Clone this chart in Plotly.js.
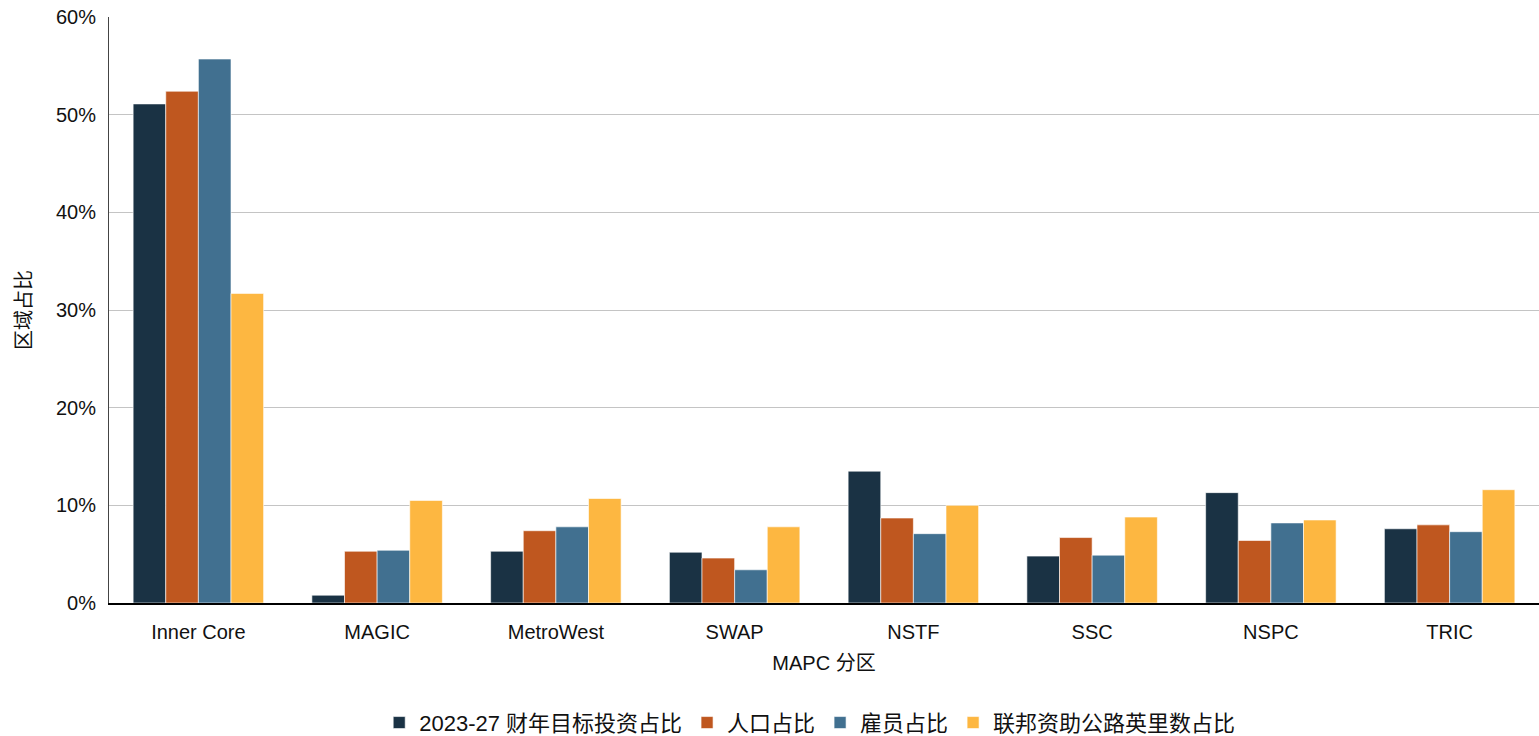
<!DOCTYPE html>
<html>
<head>
<meta charset="utf-8">
<script src="https://cdn.plot.ly/plotly-3.0.1.min.js"></script>
<style>html,body{margin:0;padding:0;background:#fff;}#chart{width:1539px;height:736px;}</style>
</head>
<body>
<div id="chart"></div>
<script>
const categories = ["Inner Core", "MAGIC", "MetroWest", "SWAP", "NSTF", "SSC", "NSPC", "TRIC"];
const seriesNames = ["2023-27 财年目标投资占比", "人口占比", "雇员占比", "联邦资助公路英里数占比"];
const investShare = [0.511, 0.008, 0.053, 0.052, 0.135, 0.048, 0.113, 0.076];
const populationShare = [0.524, 0.053, 0.074, 0.046, 0.087, 0.067, 0.064, 0.080];
const employeeShare = [0.557, 0.054, 0.078, 0.034, 0.071, 0.049, 0.082, 0.073];
const highwayMilesShare = [0.317, 0.105, 0.107, 0.078, 0.100, 0.088, 0.085, 0.116];
const yTickVals = [0, 0.1, 0.2, 0.3, 0.4, 0.5, 0.6];
const yTickText = ["0%", "10%", "20%", "30%", "40%", "50%", "60%"];

const colors = ["#1a3244", "#bf571f", "#417090", "#fdb741"];
const values = [investShare, populationShare, employeeShare, highwayMilesShare];
const font = "Liberation Sans, Arial, Noto Sans CJK SC, sans-serif";

const traces = values.map((v, i) => ({
  type: "bar",
  name: seriesNames[i],
  x: categories,
  y: v,
  marker: {color: colors[i], line: {color: "rgba(255,255,255,0.6)", width: 1}},
  hoverinfo: "x+y+name"
}));

const layout = {
  width: 1539, height: 736,
  margin: {l: 109, r: 0, t: 17, b: 133, autoexpand: false},
  paper_bgcolor: "#fff", plot_bgcolor: "#fff",
  font: {family: font, size: 20, color: "#111"},
  barmode: "group",
  bargap: 0.27,
  bargroupgap: 0,
  showlegend: true,
  legend: {orientation: "h", x: 0.49, xanchor: "center", yref: "container", y: 0.018, yanchor: "middle",
    font: {family: font, size: 22, color: "#111"}, itemwidth: 30, traceorder: "normal"},
  xaxis: {
    type: "category",
    title: {text: "MAPC 分区", font: {family: font, size: 20, color: "#111"}, standoff: 14},
    showline: true, linecolor: "#000", linewidth: 1.5,
    ticks: "", ticklabelstandoff: 10, tickfont: {family: font, size: 20, color: "#111"},
    showgrid: false, zeroline: false
  },
  yaxis: {
    range: [0, 0.6],
    tickvals: yTickVals, ticktext: yTickText,
    title: {text: "区域占比", font: {family: font, size: 20, color: "#111"}, standoff: 18},
    showline: true, linecolor: "#444", linewidth: 1,
    gridcolor: "#c4c4c4", gridwidth: 1,
    zeroline: false, ticks: "", ticklabelstandoff: 8,
    tickfont: {family: font, size: 20, color: "#111"}
  }
};

Plotly.newPlot("chart", traces, layout, {displayModeBar: false, staticPlot: true});
</script>
</body>
</html>
